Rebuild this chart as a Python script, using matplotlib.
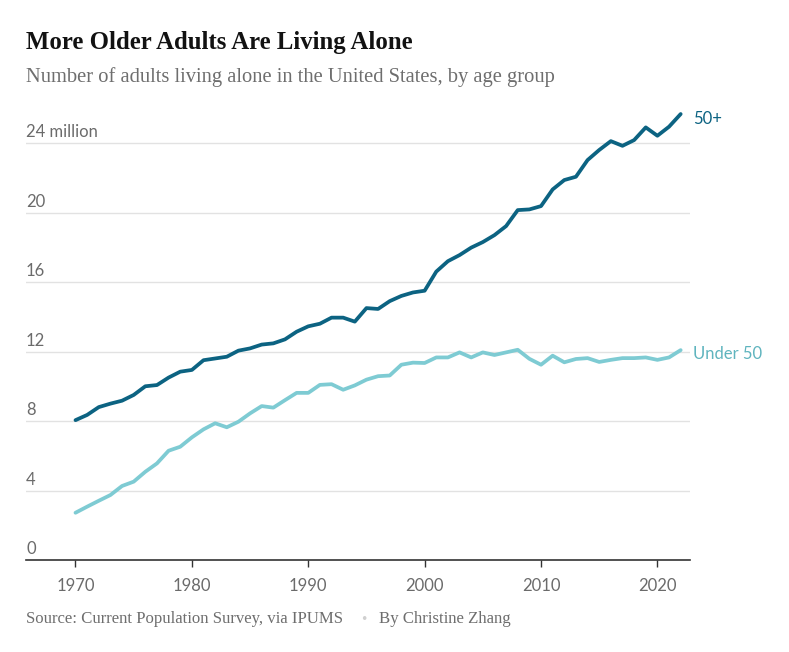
import matplotlib.pyplot as plt
import matplotlib.transforms as mtransforms

years = list(range(1970, 2023))

# millions of adults living alone
over_50 = [8.05, 8.35, 8.8, 9.0, 9.17, 9.5, 10.0, 10.07, 10.5, 10.84,
           10.94, 11.5, 11.6, 11.7, 12.05, 12.18, 12.4, 12.47, 12.7, 13.14,
           13.45, 13.6, 13.95, 13.95, 13.72, 14.5, 14.45, 14.9, 15.2, 15.4,
           15.5, 16.6, 17.2, 17.55, 17.98, 18.3, 18.7, 19.22, 20.14, 20.18,
           20.37, 21.33, 21.87, 22.06, 23.02, 23.6, 24.11, 23.84, 24.17, 24.9,
           24.42, 24.94, 25.67]
under_50 = [2.72, 3.07, 3.41, 3.74, 4.26, 4.51, 5.08, 5.56, 6.29, 6.52,
            7.06, 7.52, 7.87, 7.64, 7.96, 8.44, 8.86, 8.77, 9.2, 9.62,
            9.62, 10.08, 10.12, 9.8, 10.05, 10.38, 10.58, 10.62, 11.24, 11.36,
            11.34, 11.66, 11.66, 11.95, 11.66, 11.95, 11.8, 11.95, 12.1, 11.58,
            11.24, 11.76, 11.38, 11.57, 11.62, 11.4, 11.52, 11.62, 11.62, 11.66,
            11.52, 11.66, 12.08]

y_ticks = [0, 4, 8, 12, 16, 20, 24]
y_labels = ['0', '4', '8', '12', '16', '20', '24 million']
x_ticks = [1970, 1980, 1990, 2000, 2010, 2020]

dark = '#0c6382'
light = '#7ecbd3'
grey = '#6b6b6b'
sans = ['Lato', 'DejaVu Sans']
serif = ['Liberation Serif', 'DejaVu Serif']

fig = plt.figure(figsize=(7.89, 6.52), dpi=100)
ax = fig.add_axes([0.033, 0.1411, 0.8415, 0.6928])

ax.plot(years, under_50, color=light, linewidth=2.7, solid_capstyle='round', zorder=3)
ax.plot(years, over_50, color=dark, linewidth=2.7, solid_capstyle='round', zorder=4)

ax.set_xlim(1965.75, 2022.8)
ax.set_ylim(0, 26)

# gridlines with labels sitting above them
for v in y_ticks:
    if v > 0:
        ax.axhline(v, color='#e2e2e2', linewidth=1, zorder=1)
trans = mtransforms.blended_transform_factory(ax.transAxes, ax.transData)
for v, lab in zip(y_ticks, y_labels):
    ax.text(0.0, v + 0.62, lab, transform=trans, ha='left', va='center',
            fontsize=12, color=grey, family=sans)

ax.set_yticks([])
ax.set_xticks(x_ticks)
ax.set_xticklabels([str(x) for x in x_ticks], fontsize=12, color=grey, family=sans)
ax.tick_params(axis='x', length=5, width=1, color='#333333', pad=8)
for s in ['top', 'right', 'left']:
    ax.spines[s].set_visible(False)
ax.spines['bottom'].set_color('#333333')
ax.spines['bottom'].set_linewidth(1.2)

ax.text(years[-1] + 1.1, over_50[-1] - 0.3, '50+', ha='left', va='center',
        fontsize=12, color=dark, family=sans)
ax.text(years[-1] + 1.1, under_50[-1] - 0.25, 'Under 50', ha='left', va='center',
        fontsize=12, color='#5fb4be', family=sans)

fig.text(26 / 789, 1 - 42 / 652, 'More Older Adults Are Living Alone',
         ha='left', va='center', fontsize=17.8, fontweight='bold',
         color='#121212', family=serif)
fig.text(26 / 789, 1 - 77 / 652,
         'Number of adults living alone in the United States, by age group',
         ha='left', va='center', fontsize=14.8, color='#6e6e6e', family=serif)

fig.text(26 / 789, 1 - 619 / 652, 'Source: Current Population Survey, via IPUMS',
         ha='left', va='center', fontsize=12.1, color='#6e6e6e', family=serif)
fig.text(364 / 789, 1 - 619 / 652, '\u2022', ha='center', va='center',
         fontsize=9, color='#d0d0d0', family=['DejaVu Sans'])
fig.text(379 / 789, 1 - 619 / 652, 'By Christine Zhang',
         ha='left', va='center', fontsize=12.1, color='#6e6e6e', family=serif)

fig.savefig('out.png', dpi=100)
